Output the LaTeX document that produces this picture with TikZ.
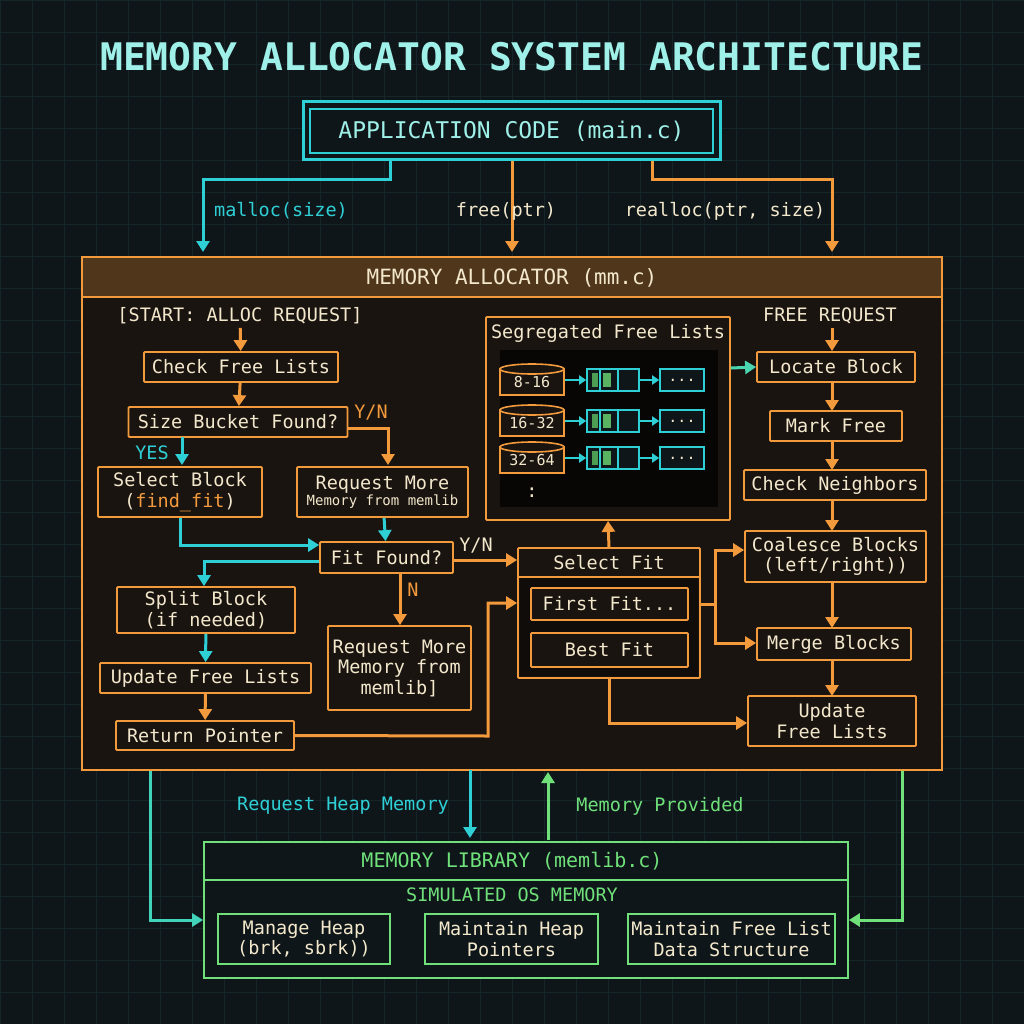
\documentclass[tikz,border=0pt]{standalone}
\usepackage{fontspec}
\setmonofont{DejaVu Sans Mono}
\usetikzlibrary{arrows.meta}
\definecolor{bg}{HTML}{0E1619}
\definecolor{gridc}{HTML}{16252A}
\definecolor{org}{HTML}{F29A3C}
\definecolor{cyn}{HTML}{2FCFD6}
\definecolor{grn}{HTML}{6FE07A}
\definecolor{crm}{HTML}{F3E8CC}
\definecolor{boxbg}{HTML}{1A1410}
\definecolor{ttl}{HTML}{9FF0E8}
\begin{document}
\begin{tikzpicture}[x=1pt,y=-1pt,font=\ttfamily,
  box/.style={draw=org,line width=1.8pt,fill=boxbg,rounded corners=1pt,text=crm,align=center,inner sep=0pt},
  gbox/.style={draw=grn,line width=1.8pt,fill=bg,text=crm,align=center,inner sep=0pt},
  oa/.style={draw=org,line width=3pt,-{Triangle[length=11pt,width=13pt]}},
  ca/.style={draw=cyn,line width=3pt,-{Triangle[length=11pt,width=13pt]}},
  ga/.style={draw=grn,line width=3pt,-{Triangle[length=11pt,width=13pt]}},
  t/.style={font=\ttfamily\fontsize{18.5}{20.5}\selectfont},
  ts/.style={font=\ttfamily\fontsize{15}{16}\selectfont}]
\fill[bg] (0,0) rectangle (1024,1024);
\useasboundingbox (0,0) rectangle (1024,1024);
\foreach \i in {0,32,...,1024}{\draw[gridc,line width=0.6pt] (\i,0)--(\i,1024); \draw[gridc,line width=0.6pt] (0,\i)--(1024,\i);}
\node[text=ttl,font=\ttfamily\bfseries\fontsize{38}{40}\selectfont] (title) at (512,57) {MEMORY ALLOCATOR SYSTEM ARCHITECTURE};
% application
\node[draw=cyn,line width=3pt,fill=bg,minimum width=417,minimum height=58,inner sep=0pt] (app) at (511.5,131) {};
\node[draw=cyn,line width=1.2pt,minimum width=403,minimum height=44,inner sep=0pt,text=ttl,font=\ttfamily\fontsize{23}{25}\selectfont] (appin) at (511.5,131) {APPLICATION CODE (main.c)};
% allocator
\node[draw=org,line width=2.4pt,fill=boxbg,minimum width=860,minimum height=513,inner sep=0pt] (alloc) at (512,513.5) {};
\fill[org!25!boxbg] (83,258) rectangle (941,297);
\draw[org,line width=1.6pt] (83,297)--(941,297);
\node[text=crm,font=\ttfamily\fontsize{21}{23}\selectfont] (alloct) at (512,278) {MEMORY ALLOCATOR (mm.c)};
% top arrows
\coordinate (m0) at (390,161); \coordinate (f0) at (512,161); \coordinate (r0) at (652,161);
\draw[ca] (m0)--(390,180)--(203,180)--(203,252);
\draw[oa] (f0)--(512,252);
\draw[oa] (r0)--(652,180)--(832,180)--(832,252);
\node[t,text=cyn] (lm) at (281,211) {malloc(size)};
\node[t,text=crm] (lf) at (506,211) {free(ptr)};
\node[t,text=crm] (lr) at (725,211) {realloc(ptr, size)};
% left flow
\node[t,text=crm] (start) at (240,316) {[START: ALLOC REQUEST]};
\node[box,t,minimum width=194,minimum height=30] (cfl) at (241,367) {Check Free Lists};
\node[box,t,minimum width=219,minimum height=30] (sbf) at (238,422) {Size Bucket Found?};
\node[box,t,minimum width=164,minimum height=50] (sb) at (180,492) {Select Block\\(\textcolor{org}{find\_fit})};
\node[box,minimum width=171,minimum height=50] (rm1) at (382.5,492) {{\fontsize{18.5}{20}\selectfont Request More}\\{\fontsize{14}{16}\selectfont Memory from memlib}};
\node[box,t,minimum width=133,minimum height=31] (ff) at (386.5,557.5) {Fit Found?};
\node[box,t,minimum width=178,minimum height=46] (split) at (206,610) {Split Block\\(if needed)};
\node[box,t,minimum width=211,minimum height=30] (ufl) at (205.5,678) {Update Free Lists};
\node[box,t,minimum width=178,minimum height=29] (rp) at (205,735.5) {Return Pointer};
\node[box,t,minimum width=143,minimum height=84] (rm2) at (399.5,668) {Request More\\Memory from\\memlib]};
\draw[oa] (start)--(cfl);
\draw[oa] (cfl)--(sbf);
\draw[ca] (182,437)--(182,465);
\node[t,text=cyn] (yes) at (152,453) {YES};
\draw[oa] (sbf.east|-0,428)--(388,428)--(388,465);
\node[t,text=org] (yn1) at (371,413) {Y/N};
\draw[ca] (rm1)--(ff);
\draw[ca] (sb.south)--(180,545)--(ff.west|-0,545);
\draw[ca] (ff.west|-0,561)--(204,561)--(split.north-|204,0);
\draw[ca] (split)--(ufl);
\draw[oa] (ufl)--(rp);
\draw[oa] (400,573)--(rm2.north-|400,0);
\node[t,text=org] (n) at (413,590) {N};
% select fit
\node[box,minimum width=182,minimum height=130] (sf) at (609,613) {};
\fill[black!40!boxbg] (520,578) rectangle (698,676);
\draw[org,line width=1.6pt] (519,577)--(699,577);
\node[t,text=crm] (sft) at (609,563) {Select Fit};
\node[box,t,minimum width=157,minimum height=32] (first) at (609.5,604) {First Fit...};
\node[box,t,minimum width=157,minimum height=34] (best) at (609.5,650) {Best Fit};
\draw[oa] (ff.east|-0,560)--(sf.west|-0,560);
\node[t,text=crm] (yn2) at (476,546) {Y/N};
\draw[oa] (rp.east)--(488,736)--(488,603)--(sf.west|-0,603);
% segregated
\node[box,minimum width=244,minimum height=203] (seg) at (608,418.5) {};
\node[t,text=crm] (segt) at (608,333) {Segregated Free Lists};
\fill[black!70!boxbg] (500,350) rectangle (718,507);
\foreach \y/\l [count=\k] in {380/8-16,421/16-32,458/32-64}{
  \node[ts,draw=org,line width=1.6pt,fill=boxbg,text=crm,minimum width=64,minimum height=26,inner sep=0pt] (cy\k) at (532,\y+2) {\l};
  \draw[org,line width=1.6pt,fill=boxbg] (532,\y-11) ellipse [x radius=32,y radius=5];
  \node[draw=cyn,line width=1.6pt,fill=bg,minimum width=52,minimum height=22,inner sep=0pt] (bk\k) at (613,\y) {};
  \fill[grn!70!black] (592,\y-7) rectangle (598,\y+7);
  \fill[grn!80!black] (603,\y-7) rectangle (611,\y+7);
  \draw[cyn,line width=1.2pt] (600,\y-11)--(600,\y+11) (618,\y-11)--(618,\y+11);
  \node[ts,draw=cyn,line width=1.6pt,fill=bg,text=crm,minimum width=44,minimum height=22,inner sep=0pt] (dt\k) at (682,\y) {...};
  \draw[cyn,line width=2.4pt,-{Triangle[length=7pt,width=9pt]}] (cy\k.east|-0,\y)--(bk\k.west);
  \draw[cyn,line width=2.4pt,-{Triangle[length=7pt,width=9pt]}] (bk\k.east)--(dt\k.west);
}
\node[t,text=crm] (vd) at (532,493) {:};
\draw[oa] (sf.north)--(seg.south);
% right column
\node[t,text=crm] (frq) at (830,316) {FREE REQUEST};
\node[box,t,minimum width=158,minimum height=30] (lb) at (836,367) {Locate Block};
\node[box,t,minimum width=132,minimum height=30] (mf) at (836,426) {Mark Free};
\node[box,t,minimum width=182,minimum height=30] (cn) at (835,485) {Check Neighbors};
\node[box,t,minimum width=181,minimum height=51] (cb) at (835.5,556.5) {Coalesce Blocks\\(left/right))};
\node[box,t,minimum width=154,minimum height=32] (mb) at (834,644) {Merge Blocks};
\node[box,t,minimum width=168,minimum height=50] (uf2) at (832,721) {Update\\Free Lists};
\draw[oa] (832,328)--(lb.north-|832,0);
\draw[oa] (832,382)--(832,411);
\draw[oa] (832,441)--(832,470);
\draw[oa] (832,500)--(832,531);
\draw[oa] (832,582)--(832,628);
\draw[oa] (832,660)--(832,696);
\draw[draw=cyn!60!grn,line width=3pt,-{Triangle[length=11pt,width=13pt]}] (seg.east|-0,368)--(lb.west);
\draw[org,line width=3pt] (sf.east|-0,604)--(715,604);
\draw[oa] (715,604)--(715,550)--(cb.west|-0,550);
\draw[oa] (715,604)--(715,643)--(mb.west|-0,643);
\draw[oa] (sf.south)--(609,723)--(uf2.west|-0,723);
% memlib
\node[gbox,minimum width=644,minimum height=136] (ml) at (526,910) {};
\draw[grn,line width=1.4pt] (205,880)--(847,880);
\node[text=grn,font=\ttfamily\fontsize{20}{22}\selectfont] (mlt) at (512,861) {MEMORY LIBRARY (memlib.c)};
\node[t,text=grn] (sim) at (512,895) {SIMULATED OS MEMORY};
\node[gbox,t,minimum width=172,minimum height=50] (mh) at (304,939) {Manage Heap\\(brk, sbrk))};
\node[gbox,t,minimum width=173,minimum height=50] (mhp) at (511.5,939) {Maintain Heap\\Pointers};
\node[gbox,t,minimum width=207,minimum height=50] (mfl) at (731.5,939) {Maintain Free List\\Data Structure};
\draw[ca] (470,770)--(470,838);
\node[t,text=cyn] (rhm) at (343,806) {Request Heap Memory};
\draw[ga] (548,840)--(548,772);
\node[t,text=grn] (mp) at (660,806) {Memory Provided};
\draw[draw=cyn!70!grn,line width=3pt,-{Triangle[length=11pt,width=13pt]}] (150,771)--(150,920)--(ml.west|-0,920);
\draw[ga] (902,771)--(902,920)--(ml.east|-0,920);
\end{tikzpicture}
\end{document}
